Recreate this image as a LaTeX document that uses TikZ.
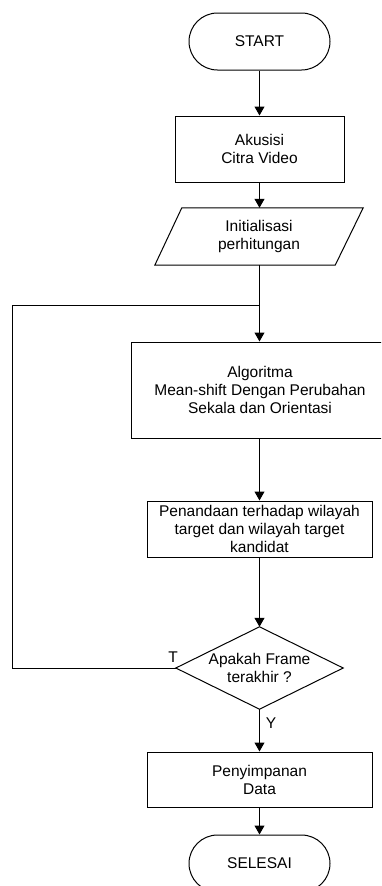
\documentclass[tikz,border=0pt]{standalone}
\usepackage{fontspec}
\setmainfont{Liberation Sans}
\usetikzlibrary{arrows.meta,calc}
\begin{document}
\begin{tikzpicture}[x=1pt,y=-1pt,
  every node/.style={font=\fontsize{15.5}{18}\selectfont, align=center, inner sep=0pt},
  procbox/.style={draw, line width=1pt, minimum width=#1},
  termbox/.style={draw, line width=1pt, rounded corners=28.5pt, minimum width=141pt, minimum height=57pt},
  flow/.style={line width=1pt, -{Triangle[length=9pt,width=10pt]}},
  plain/.style={line width=1pt},
  lbl/.style={font=\fontsize{15.5}{18}\selectfont}]
\useasboundingbox (0,0) rectangle (381,886);
\clip (0,0) rectangle (381,886);
\node[termbox] (start) at (259.5,41.5) {START};
\node[procbox=169pt, minimum height=66pt] (akus) at (259.5,149) {Akusisi\\Citra Video};
\node[minimum width=208pt, minimum height=57pt] (init) at (259,236.5) {Initialisasi\\perhitungan};
\draw[plain] ($(init.north west)+(27,0)$) -- (init.north east) -- ($(init.south east)+(-28,0)$) -- (init.south west) -- cycle;
\coordinate (junc) at (259.5,305);
\coordinate (loopl) at (12,668);
\node[procbox=258pt, minimum height=96pt] (alg) at (260,390) {Algoritma\\Mean-shift Dengan Perubahan\\Sekala dan Orientasi};
\node[procbox=225pt, minimum height=56pt] (tanda) at (259.5,529) {Penandaan terhadap wilayah\\target dan wilayah target\\kandidat};
\node[minimum width=167pt, minimum height=82pt] (dec) at (259.5,668) {Apakah Frame\\terakhir ?};
\draw[plain] (dec.north) -- (dec.east) -- (dec.south) -- (dec.west) -- cycle;
\node[procbox=225pt, minimum height=55pt] (simpan) at (259.5,779.5) {Penyimpanan\\Data};
\node[termbox] (selesai) at (259.5,863.5) {SELESAI};
\node[lbl] (tlabel) at (173,657) {T};
\node[lbl] (ylabel) at (271,723) {Y};
\draw[flow] (start) -- (akus);
\draw[flow] (akus) -- (akus.south |- init.north);
\draw[plain] (akus.south |- init.south) -- (junc);
\draw[flow] (junc) -- (junc |- alg.north);
\draw[flow] (junc |- alg.south) -- (tanda);
\draw[flow] (tanda) -- (dec);
\draw[flow] (dec) -- (simpan);
\draw[flow] (simpan) -- (selesai);
\draw[plain] (dec.west) -- (loopl) |- (junc);
\end{tikzpicture}
\end{document}
